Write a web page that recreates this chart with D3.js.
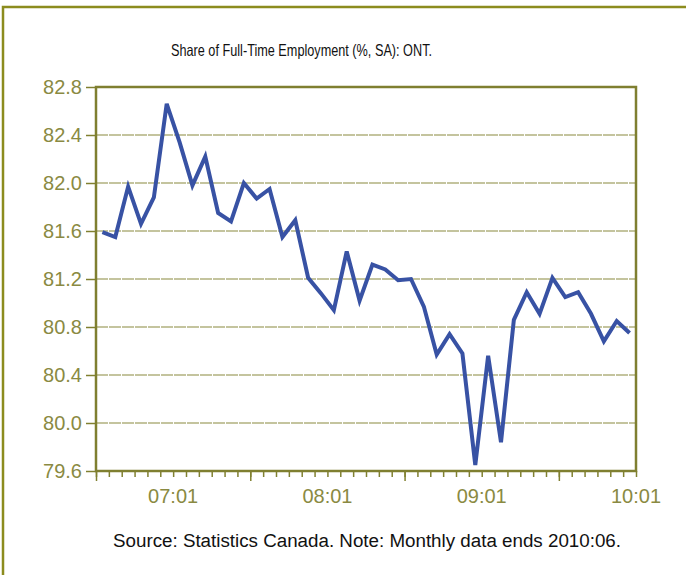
<!doctype html>
<html lang="en">
<head>
  <meta charset="utf-8">
  <title>Share of Full-Time Employment: ONT</title>
  <script src="https://d3js.org/d3.v7.min.js"></script>
  <style type="text/css">
    body { margin: 0; background: #fff; }
    text { font-family: 'Liberation Sans', Arial, sans-serif; }
    .axis text { fill: #8a8a42; font-size: 20px; }
    .axis path { display: none; }
    .axis line { stroke: #808030; stroke-width: 1.5; }
  </style>
</head>
<body>
  <div id="chart"></div>
  <script type="text/javascript">

    // monthly share of full-time employment, 2007:01 to 2010:06
    var months = [];
    [2007, 2008, 2009, 2010].forEach(function(yr) {
      for (var m = 1; m <= 12; m++) {
        if (yr == 2010 && m > 6) break;
        months.push(String(yr).slice(2) + ':' + (m < 10 ? '0' + m : m));
      }
    });

    var shareValues = [
      81.59, 81.55, 81.97, 81.66, 81.88, 82.66, 82.34, 81.98, 82.22, 81.75, 81.68, 82.00,
      81.87, 81.95, 81.55, 81.69, 81.21, 81.08, 80.94, 81.43, 81.02, 81.32, 81.28, 81.19,
      81.20, 80.97, 80.57, 80.74, 80.58, 79.65, 80.56, 79.84, 80.86, 81.09, 80.91, 81.21,
      81.05, 81.09, 80.91, 80.68, 80.85, 80.75
    ];

    var yTicks = [79.6, 80.0, 80.4, 80.8, 81.2, 81.6, 82.0, 82.4, 82.8];
    var yearLabels = ['07:01', '08:01', '09:01', '10:01'];

    var width = 686, height = 575;
    // plot box edges (note: "top" is reserved on window, so use pTop etc.)
    var pLeft = 96, pTop = 87, pRight = 636, pBottom = 471;

    var svg = d3.select('#chart').append('svg')
        .attr('width', width)
        .attr('height', height);

    // outer frame
    svg.append('rect')
        .attr('x', 3).attr('y', 7)
        .attr('width', width + 20).attr('height', height + 20)
        .attr('fill', 'none')
        .attr('stroke', '#8c8c1e')
        .attr('stroke-width', 2.5);

    // the original title is set in a narrow face, so squeeze it to its width
    svg.append('text')
        .attr('x', 171).attr('y', 56)
        .attr('textLength', 261)
        .attr('lengthAdjust', 'spacingAndGlyphs')
        .style('font-size', '16.5px')
        .style('fill', '#111')
        .text('Share of Full-Time Employment (%, SA): ONT.');

    svg.append('text')
        .attr('x', 113).attr('y', 547)
        .attr('textLength', 508)
        .attr('lengthAdjust', 'spacingAndGlyphs')
        .style('font-size', '18px')
        .style('fill', '#111')
        .text('Source: Statistics Canada. Note: Monthly data ends 2010:06.');

    var x = d3.scaleBand()
        .domain(months)
        .range([pLeft, pRight]);

    // index scale for the tick marks between months
    var xIdx = d3.scaleLinear()
        .domain([0, months.length])
        .range([pLeft, pRight]);

    var y = d3.scaleLinear()
        .domain([79.6, 82.8])
        .range([pBottom, pTop]);

    // gridlines
    svg.append('g')
        .selectAll('line')
        .data(yTicks.slice(1, -1))
        .enter().append('line')
        .attr('x1', pLeft).attr('x2', pRight)
        .attr('y1', function(d) { return y(d); })
        .attr('y2', function(d) { return y(d); })
        .attr('stroke', '#c4c49e')
        .attr('stroke-width', 2)
        .attr('stroke-dasharray', '12,1');

    // y axis
    svg.append('g')
        .attr('class', 'axis')
        .attr('transform', 'translate(' + pLeft + ',0)')
        .call(d3.axisLeft(y).tickValues(yTicks).tickFormat(d3.format('.1f')).tickSize(10).tickPadding(4));

    // x axis: minor ticks every month, major at each January
    svg.append('g')
        .attr('class', 'axis')
        .attr('transform', 'translate(0,' + pBottom + ')')
        .call(d3.axisBottom(xIdx).tickValues(d3.range(0, months.length + 1)).tickSize(6).tickFormat(''));

    svg.append('g')
        .attr('class', 'axis')
        .attr('transform', 'translate(0,' + pBottom + ')')
        .call(d3.axisBottom(xIdx).tickValues([0, 12, 24, 36]).tickSize(10).tickFormat(''));

    svg.append('g')
        .attr('class', 'axis')
        .selectAll('text')
        .data(yearLabels)
        .enter().append('text')
        .attr('x', function(d, i) {
          var mid = xIdx(i * 12 + 6);
          return mid > pRight ? pRight + 1 : mid;
        })
        .attr('text-anchor', function(d, i) { return xIdx(i * 12 + 6) > pRight ? 'end' : 'middle'; })
        .attr('y', 503)
        .text(function(d) { return d; });

    // plot border
    svg.append('rect')
        .attr('x', pLeft).attr('y', pTop)
        .attr('width', pRight - pLeft).attr('height', pBottom - pTop)
        .attr('fill', 'none')
        .attr('stroke', '#7f7f30')
        .attr('stroke-width', 2.5);

    var line = d3.line()
        .x(function(d, i) { return x(months[i]) + x.bandwidth() / 2; })
        .y(function(d) { return y(d); });

    svg.append('path')
        .datum(shareValues)
        .attr('d', line)
        .attr('fill', 'none')
        .attr('stroke', '#3852a4')
        .attr('stroke-width', 4)
        .attr('stroke-linejoin', 'miter');

  </script>
</body>
</html>
